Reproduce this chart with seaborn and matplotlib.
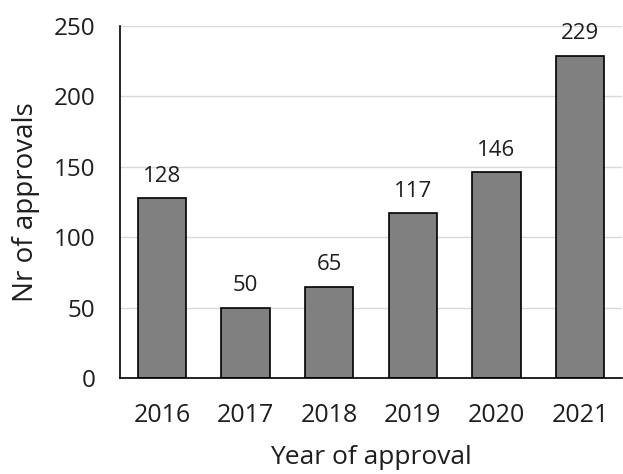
import matplotlib
matplotlib.use("Agg")
import matplotlib.pyplot as plt
import seaborn as sns
import pandas as pd

# ── Data ─────────────────────────────────────────────────────────────────────
YEARS     = ["2016", "2017", "2018", "2019", "2020", "2021"]
APPROVALS = [128, 50, 65, 117, 146, 229]

df = pd.DataFrame({"year": YEARS, "approvals": APPROVALS})

sns.set_style("white")
plt.rcParams["font.family"] = ["Open Sans", "DejaVu Sans"]
plt.rcParams["text.color"] = "#1e1e1e"
plt.rcParams["axes.labelcolor"] = "#1e1e1e"
plt.rcParams["xtick.color"] = "#1e1e1e"
plt.rcParams["ytick.color"] = "#1e1e1e"

fig = plt.figure(figsize=(6.23, 4.74), dpi=100)
ax = fig.add_axes([0.193, 0.2025, 0.805, 0.7425])

ax.yaxis.grid(True, color="#d9d9d9", linewidth=1)
ax.set_axisbelow(True)

sns.barplot(data=df, x="year", y="approvals", ax=ax, color="#808080",
            saturation=1, width=0.58, edgecolor="black", linewidth=1.2)

for i, v in enumerate(APPROVALS):
    ax.text(i, v + 8, str(v), ha="center", va="bottom", fontsize=16)

ax.set_ylim(0, 250)
ax.set_xlim(-0.5, 5.5)
ax.set_yticks(range(0, 251, 50))
ax.tick_params(axis="x", labelsize=18, length=0, pad=18)
ax.tick_params(axis="y", labelsize=17.5, length=0, pad=18)
ax.set_xlabel("Year of approval", fontsize=19, labelpad=12)
ax.set_ylabel("Nr of approvals", fontsize=20, labelpad=10)

for s in ("top", "right"):
    ax.spines[s].set_visible(False)
for s in ("left", "bottom"):
    ax.spines[s].set_color("black")
    ax.spines[s].set_linewidth(1.2)

fig.savefig("out.png", dpi=100)
